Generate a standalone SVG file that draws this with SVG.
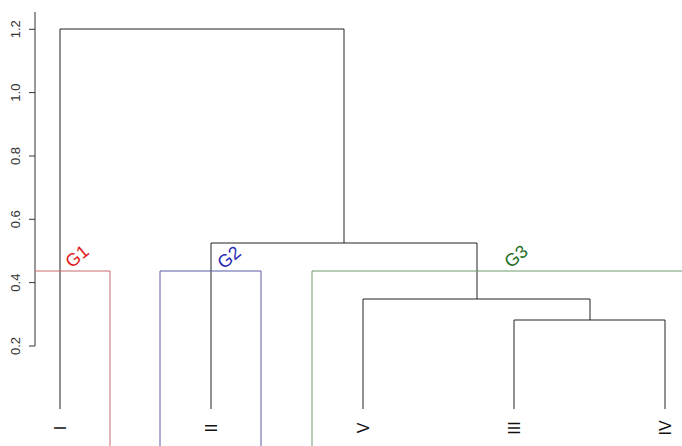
<svg xmlns="http://www.w3.org/2000/svg" width="682" height="446" viewBox="0 0 682 446">
<style>
.ln{fill:none;stroke:#222;stroke-width:1}
.ax{fill:none;stroke:#333;stroke-width:1}
.tk{font-family:"Liberation Sans",Arial,sans-serif;font-size:13px;fill:#333;text-anchor:middle}
.lf{font-family:"Liberation Sans",Arial,sans-serif;font-size:16px;fill:#111;text-anchor:middle}
.g{font-family:"Liberation Sans",Arial,sans-serif;font-size:18px;text-anchor:middle}
</style>
<rect width="682" height="446" fill="#fff"/>
<g id="axis">
<path class="ax" d="M35,12V346M29,29.3H35M29,92.6H35M29,156H35M29,219.3H35M29,282.6H35M29,346H35"/>
<text class="tk" transform="translate(20,29.3) rotate(-90)">1.2</text>
<text class="tk" transform="translate(20,92.6) rotate(-90)">1.0</text>
<text class="tk" transform="translate(20,156) rotate(-90)">0.8</text>
<text class="tk" transform="translate(20,219.3) rotate(-90)">0.6</text>
<text class="tk" transform="translate(20,282.6) rotate(-90)">0.4</text>
<text class="tk" transform="translate(20,346) rotate(-90)">0.2</text>
</g>
<g id="connectors">
<path class="ln" d="M60,409V29H344V243"/>
<path class="ln" d="M211,409V243H477V299"/>
<path class="ln" d="M363,409V299H590V320"/>
<path class="ln" d="M514,409V320H665V409"/>
</g>
<g id="leaf-I"><text class="lf" transform="translate(66,428) rotate(-90)">I</text></g>
<g id="leaf-II"><text class="lf" transform="translate(217,428) rotate(-90)">II</text></g>
<g id="leaf-V"><text class="lf" transform="translate(369,428) rotate(-90)">V</text></g>
<g id="leaf-III"><text class="lf" transform="translate(520,428) rotate(-90)">III</text></g>
<g id="leaf-IV"><text class="lf" transform="translate(671,428) rotate(-90)">IV</text></g>
<g id="G1">
<path d="M35,271H110V446" fill="none" stroke="#c86a6a" stroke-width="1"/>
<text class="g" fill="#e01a1a" transform="translate(81,261) rotate(-40)">G1</text>
</g>
<g id="G2">
<path d="M160,446V271H261V446" fill="none" stroke="#5a5aa8" stroke-width="1"/>
<text class="g" fill="#2a2ab4" transform="translate(233,262) rotate(-40)">G2</text>
</g>
<g id="G3">
<path d="M312,446V271H682" fill="none" stroke="#6f9a6f" stroke-width="1"/>
<text class="g" fill="#1f6e1f" transform="translate(520,261) rotate(-40)">G3</text>
</g>
</svg>
